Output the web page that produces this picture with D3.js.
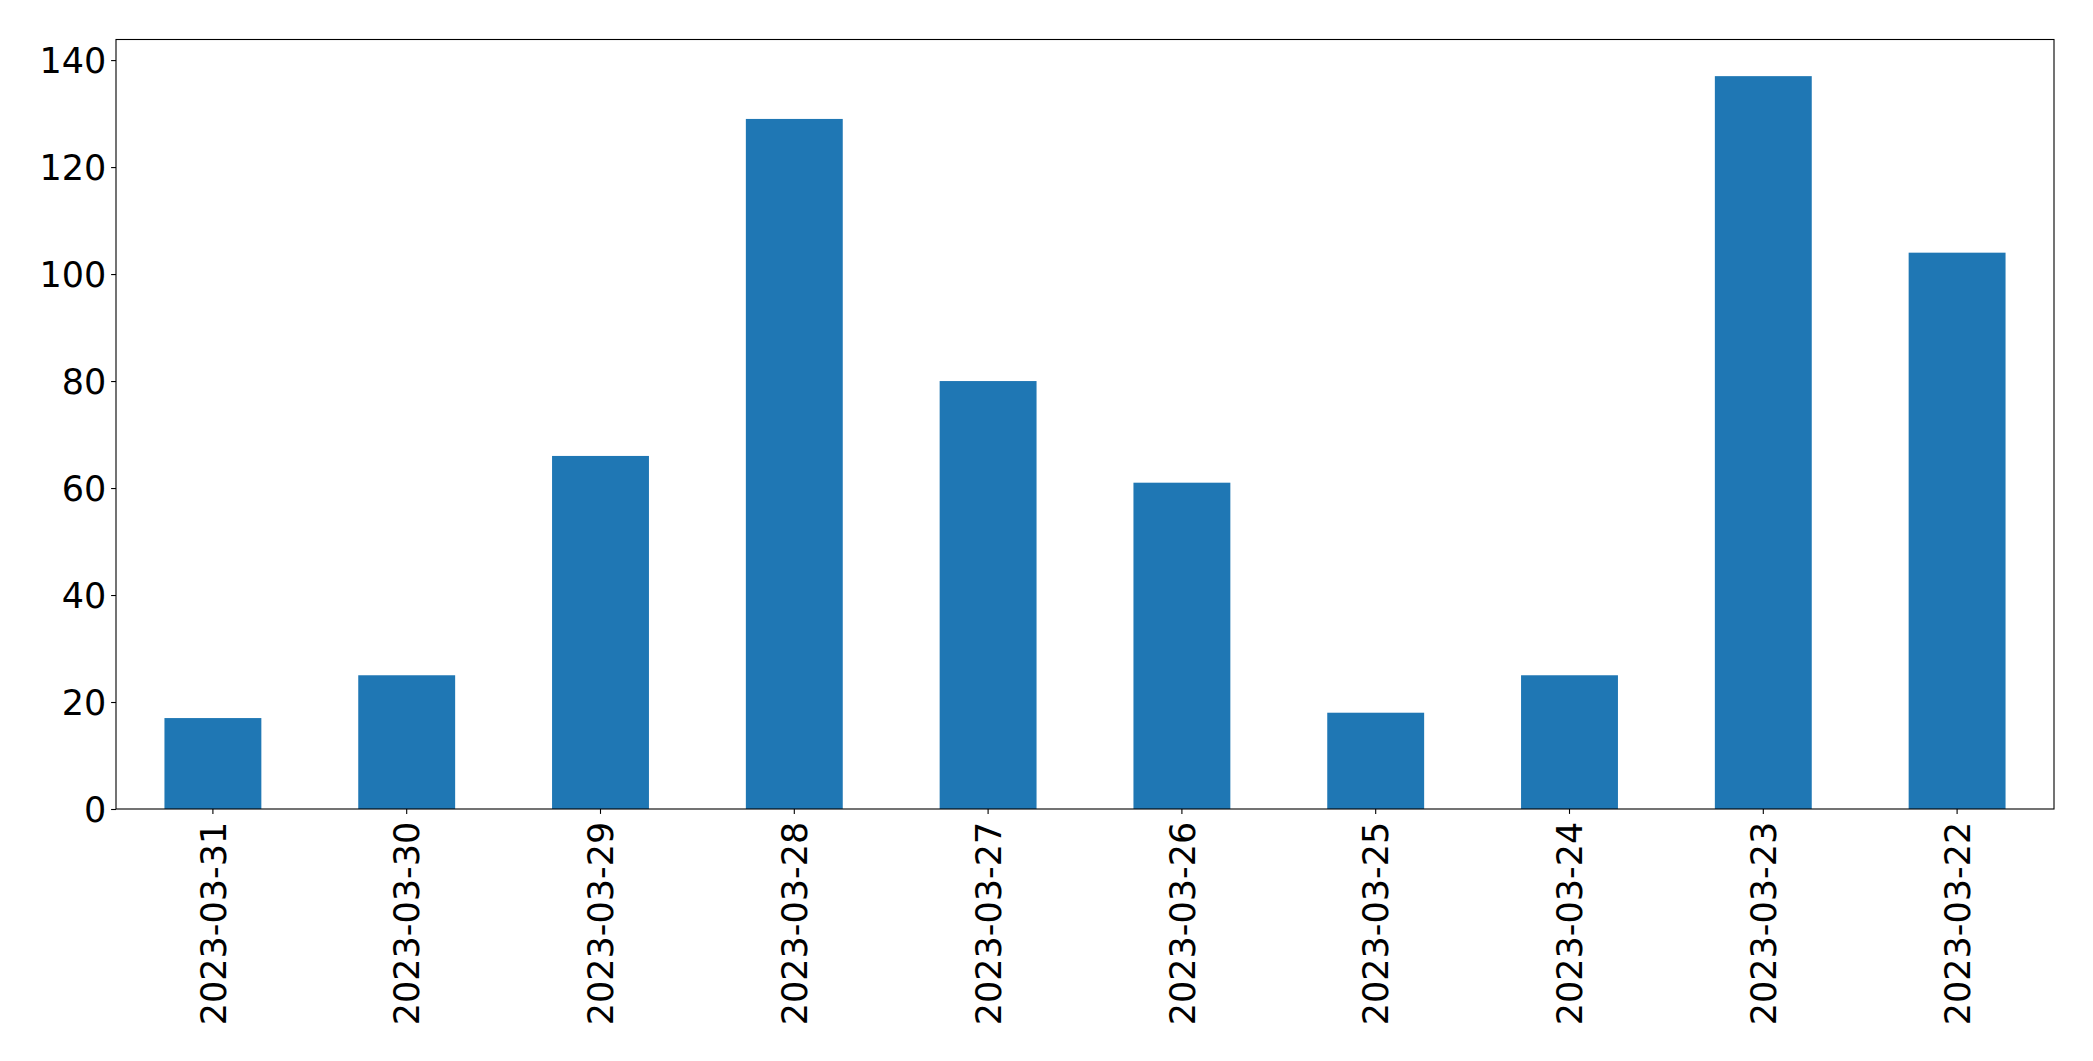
<!DOCTYPE html>
<html>
<head>
<meta charset="utf-8">
<script src="https://cdn.jsdelivr.net/npm/d3@7"></script>
<style>
  html, body { margin: 0; padding: 0; background: #ffffff; }
  svg { display: block; }
  text { font-family: "DejaVu Sans", sans-serif; fill: #000; }
</style>
</head>
<body>
<div id="chart"></div>
<script>
const categories = ["2023-03-31", "2023-03-30", "2023-03-29", "2023-03-28", "2023-03-27",
                    "2023-03-26", "2023-03-25", "2023-03-24", "2023-03-23", "2023-03-22"];
const values = [17, 25, 66, 129, 80, 61, 18, 25, 137, 104];
const yTicks = [0, 20, 40, 60, 80, 100, 120, 140];

(function () {
const W = 2093, H = 1061;
const mLeft = 116, mRight = 2054, mTop = 39.5, mBottom = 809;
const fontSize = 35;
const tickLen = 4.9, tickPad = 4.9;

const svg = d3.select("#chart").append("svg")
  .attr("width", W).attr("height", H);

svg.append("rect").attr("width", W).attr("height", H).attr("fill", "#fff");

const x = d3.scaleBand()
  .domain(categories)
  .range([mLeft, mRight])
  .paddingInner(0.5)
  .paddingOuter(0.25);

const yMax = d3.max(values) * 1.05;
const y = d3.scaleLinear().domain([0, yMax]).range([mBottom, mTop]);

// bars
svg.append("g").selectAll("rect")
  .data(values)
  .join("rect")
  .attr("x", (d, i) => x(categories[i]))
  .attr("width", x.bandwidth())
  .attr("y", d => y(d))
  .attr("height", d => y(0) - y(d))
  .attr("fill", "#1f77b4");

// y axis
const yAxis = d3.axisLeft(y).tickValues(yTicks).tickSize(tickLen).tickPadding(tickPad).tickFormat(d3.format("d"));
const gy = svg.append("g").attr("transform", `translate(${mLeft},0)`).call(yAxis);
gy.select(".domain").remove();
gy.selectAll(".tick line").attr("stroke", "#000").attr("stroke-width", 1.1);
gy.selectAll(".tick text")
  .attr("font-size", fontSize)
  .attr("font-family", "DejaVu Sans")
  .attr("dy", "0.36em");

// x axis
const xAxis = d3.axisBottom(x).tickSize(tickLen).tickPadding(tickPad);
const gx = svg.append("g").attr("transform", `translate(0,${mBottom})`).call(xAxis);
gx.select(".domain").remove();
gx.selectAll(".tick line").attr("stroke", "#000").attr("stroke-width", 1.1);
gx.selectAll(".tick text")
  .attr("font-size", fontSize)
  .attr("font-family", "DejaVu Sans")
  .attr("text-anchor", "end")
  .attr("transform", "rotate(-90)")
  .attr("x", -(tickLen + tickPad + 3))
  .attr("y", 0)
  .attr("dy", "0.36em");

// frame (spines)
svg.append("rect")
  .attr("x", mLeft).attr("y", mTop)
  .attr("width", mRight - mLeft).attr("height", mBottom - mTop)
  .attr("fill", "none").attr("stroke", "#000").attr("stroke-width", 1.1);
})();
</script>
</body>
</html>
